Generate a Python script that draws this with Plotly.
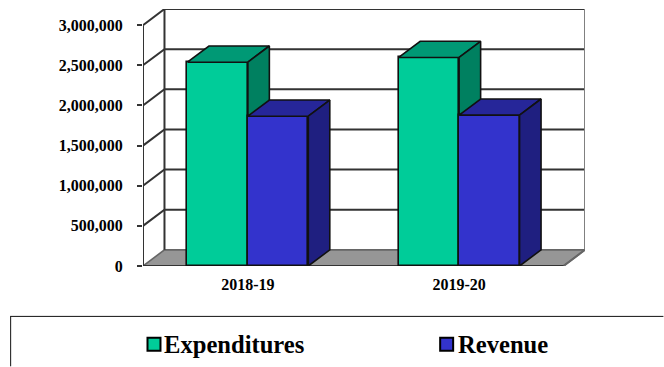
import plotly.graph_objects as go

# Chart data
categories = ["2018-19", "2019-20"]
expenditures = [2539000, 2598000]
revenue = [1866000, 1879000]
y_ticks = [0, 500000, 1000000, 1500000, 2000000, 2500000, 3000000]
y_tick_labels = ["0", "500,000", "1,000,000", "1,500,000", "2,000,000", "2,500,000", "3,000,000"]

# Page and plot geometry
W, H = 664, 367
LEFT, RIGHT, TOP, BOTTOM = 143, 585.5, 9, 266.5
UNIT_X = 211.5                             # pixels per category
UNIT_Y = (BOTTOM - 25.2) / 3000000         # pixels per currency unit
X_START = -105 / UNIT_X                    # front edge of the floor, left
X_END = (564 - 248) / UNIT_X               # front edge of the floor, right
X_MID = 0.5
DX = 21.5 / UNIT_X                         # depth offset in x units
DY = (BOTTOM - TOP) / UNIT_Y - 3000000     # depth offset in y units
BAR = 60.5 / UNIT_X
X_MIN, X_MAX = X_START, X_END + DX
Y_MAX = 3000000 + DY

FONT = "Liberation Serif"
INK = "#111111"
WALL = "#333333"


def px(x):
    return (x - LEFT) / (RIGHT - LEFT)


def py(y):
    return (BOTTOM - y) / (BOTTOM - TOP)


def line(xs, ys, color=WALL, width=2, axes=("x", "y")):
    return go.Scatter(x=xs, y=ys, mode="lines", line=dict(color=color, width=width),
                      showlegend=False, hoverinfo="skip", cliponaxis=False,
                      xaxis=axes[0], yaxis=axes[1])


def poly(xs, ys, fill, axes, edge=INK):
    return go.Scatter(x=xs + xs[:1], y=ys + ys[:1], mode="lines", fill="toself", fillcolor=fill,
                      line=dict(color=edge, width=1.6), showlegend=False, hoverinfo="skip",
                      cliponaxis=False, xaxis=axes[0], yaxis=axes[1])


traces = []

# Floor and walls of the box
traces.append(poly([X_START, X_START + DX, X_END + DX, X_END], [0, DY, DY, 0], "#969696", ("x", "y"), edge="#666666"))
for v in y_ticks[1:]:
    traces.append(line([X_START, X_START + DX, X_END + DX], [v, v + DY, v + DY]))
traces.append(line([X_START, X_START], [0, 3000000]))
traces.append(line([X_START + DX, X_START + DX], [DY, Y_MAX]))
traces.append(line([X_END + DX, X_END + DX], [DY, Y_MAX], color="#808080"))
traces.append(line([X_END, X_END + DX], [0, DY], color="#666666"))
traces.append(line([X_START, X_END], [0, 0]))

# Short ticks below the category axis
tick_drop = 4 / UNIT_Y
for t in [X_START, X_MID, X_END]:
    traces.append(line([t, t], [0, -tick_drop], width=1.5))


def add_series(values, offset, front, top, side, name, axes):
    traces.append(go.Bar(x=[0, 1], y=values, width=BAR, offset=offset, name=name,
                         marker=dict(color=front, line=dict(color=INK, width=1.6)),
                         showlegend=False, xaxis=axes[0], yaxis=axes[1]))
    for cx, v in zip([0, 1], values):
        x0, x1 = cx + offset, cx + offset + BAR
        traces.append(poly([x0, x0 + DX, x1 + DX, x1], [v, v + DY, v + DY, v], top, axes))
        traces.append(poly([x1, x1 + DX, x1 + DX, x1], [v, v + DY, DY, 0], side, axes))


add_series(expenditures, -BAR, "#00CC99", "#009975", "#008060", "Expenditures", ("x2", "y2"))
add_series(revenue, 0, "#3333CC", "#262699", "#1F1F80", "Revenue", ("x3", "y3"))

fig = go.Figure(traces)

overlay_x = dict(range=[X_MIN, X_MAX], visible=False, overlaying="x", domain=[0, 1])
overlay_y = dict(range=[0, Y_MAX], visible=False, overlaying="y", domain=[0, 1])

shapes = [
    dict(type="line", xref="paper", yref="paper", x0=px(10), x1=px(664), y0=py(317), y1=py(317),
         line=dict(color="#111111", width=1)),
    dict(type="line", xref="paper", yref="paper", x0=px(10.5), x1=px(10.5), y0=py(317), y1=py(367),
         line=dict(color="#111111", width=1)),
]
annotations = []
for label, color, sx, tx in [("Expenditures", "#00CC99", 147.5, 163.5), ("Revenue", "#3333CC", 440.5, 457)]:
    shapes.append(dict(type="rect", xref="paper", yref="paper", x0=px(sx), x1=px(sx + 13),
                       y0=py(351.5), y1=py(338.5), fillcolor=color, line=dict(color="#000000", width=2)))
    annotations.append(dict(text=f"<b>{label}</b>", xref="paper", yref="paper", x=px(tx), y=py(345.5),
                            xanchor="left", yanchor="middle", showarrow=False,
                            borderpad=0, font=dict(family=FONT, size=24.6, color="#000000")))

fig.update_layout(
    width=W, height=H, autosize=False,
    margin=dict(l=LEFT, r=W - RIGHT, t=TOP, b=H - BOTTOM, pad=0),
    paper_bgcolor="white", plot_bgcolor="white",
    showlegend=False, bargap=0, barmode="overlay",
    shapes=shapes, annotations=annotations,
    xaxis=dict(range=[X_MIN, X_MAX], tickvals=[0, 1], ticktext=[f"<b>{c}</b>" for c in categories],
               ticks="", showgrid=False, zeroline=False, showline=False, automargin=False,
               ticklabelstandoff=7, tickfont=dict(family=FONT, size=16, color="#000000")),
    yaxis=dict(range=[0, Y_MAX], tickvals=y_ticks, ticktext=[f"<b>{t}</b>" for t in y_tick_labels],
               ticks="outside", ticklen=5, tickwidth=1.5, tickcolor=WALL, showgrid=False,
               zeroline=False, showline=False, automargin=False, ticklabelstandoff=11,
               tickfont=dict(family=FONT, size=16, color="#000000")),
    xaxis2=overlay_x, yaxis2=overlay_y, xaxis3=overlay_x, yaxis3=overlay_y,
)

fig.write_html("out.html", config=dict(displayModeBar=False))
